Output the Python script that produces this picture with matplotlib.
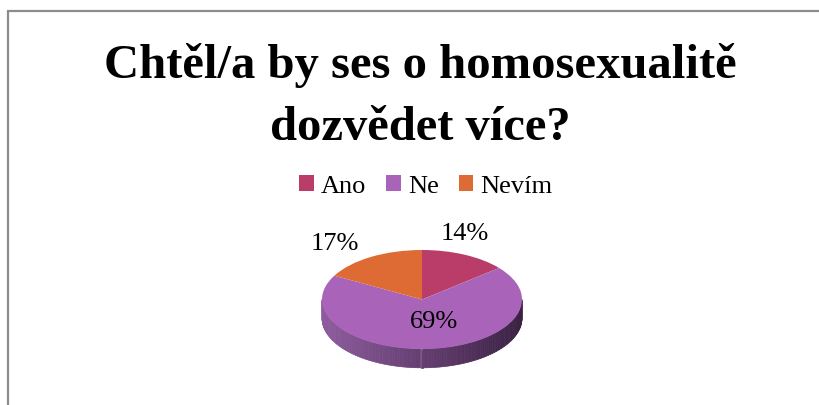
import numpy as np
import matplotlib.pyplot as plt
from matplotlib.patches import Rectangle, Polygon
from matplotlib.colors import to_rgb

# Data
labels = ['Ano', 'Ne', 'Nevím']
values = [14, 69, 17]
colors = ['#b93c69', '#a964b9', '#df6b34']
title_lines = ['Chtěl/a by ses o homosexualitě', 'dozvědet více?']

W, H = 819, 406
fig = plt.figure(figsize=(W / 100, H / 100), dpi=100)
plt.rcParams['font.family'] = ['Liberation Serif', 'DejaVu Serif']

# frame of the chart area (right/bottom cut off like in the original)
fig.patches.append(Rectangle((8 / W, -0.05), 1.0, 1 - 12 / H + 0.05,
                             transform=fig.transFigure, fill=False,
                             edgecolor='#8c8c8c', linewidth=1.6))

# title, two lines
for line, base in zip(title_lines, [78, 140]):
    fig.text(420 / W, 1 - base / H, line, ha='center', va='baseline',
             fontsize=35, fontweight='bold')

# pie axes: ellipse centre (422, 300) px, semi axes 100 x 49.5 px
cx, cy, a, b = 422, 300.5, 100, 49.5
xl, xr = -1.1, 1.1
yb, yt = -1.6, 1.6
ax = fig.add_axes([(cx + xl * a) / W, 1 - (cy - yb * b) / H,
                   (xr - xl) * a / W, (yt - yb) * b / H])

wedges, _ = ax.pie(values, colors=colors, startangle=90, counterclock=False,
                   wedgeprops=dict(linewidth=0))
ax.set_aspect('auto')
ax.set_xlim(xl, xr)
ax.set_ylim(yb, yt)
ax.axis('off')

# side of the cylinder (front half), shaded light -> dark from left to right
depth = 0.38
side_l = np.array(to_rgb('#8e5c9e'))
side_r = np.array(to_rgb('#3b2143'))
for w in wedges:
    t1, t2 = w.theta1 % 360, w.theta2 % 360
    if t2 <= t1:
        t2 += 360
    for off in (0, 360):
        lo = max(t1 - off, 180)
        hi = min(t2 - off, 360)
        if hi <= lo:
            continue
        ts = np.linspace(lo, hi, 120)
        for i in range(len(ts) - 1):
            th = np.radians(ts[i:i + 2])
            x = np.cos(th)
            y = np.sin(th)
            pts = np.column_stack([np.r_[x, x[::-1]], np.r_[y, y[::-1] - depth]])
            f = (np.cos(th.mean()) + 1) / 2
            c = side_l * (1 - f) + side_r * f
            ax.add_patch(Polygon(pts, closed=True, facecolor=c, edgecolor=c,
                                 linewidth=0.5, zorder=0))

# percentage labels (baseline positions, pie units)
label_pos = [(0.43, 1.22), (0.12, -0.556), (-0.87, 1.02)]
for v, (lx, ly) in zip(values, label_pos):
    ax.text(lx, ly, f'{v}%', ha='center', va='baseline', fontsize=19)

fig.legend(wedges, labels, loc='center', bbox_to_anchor=(426 / W, 1 - 187 / H),
           ncol=3, frameon=False, fontsize=19, handlelength=0.55,
           handleheight=0.55, handletextpad=0.27, columnspacing=0.76,
           borderpad=0)

fig.savefig('out.png', dpi=100)
